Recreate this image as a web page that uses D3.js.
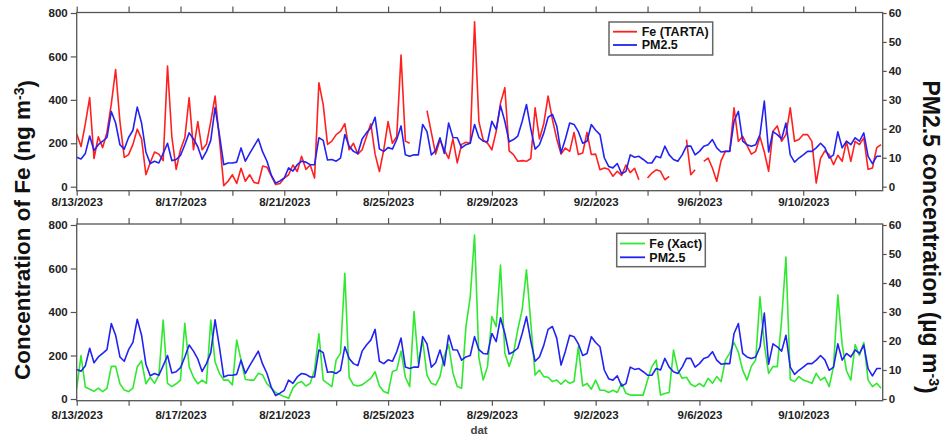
<!DOCTYPE html>
<html>
<head>
<meta charset="utf-8">
<script src="https://cdn.jsdelivr.net/npm/d3@7"></script>
<style>
body { margin: 0; background: #fff; }
svg { display: block; }
.tick text { font-family: "Liberation Sans", Arial, sans-serif; font-weight: bold; font-size: 11.5px; fill: #222; }
.tick line { stroke: #555; stroke-width: 1.2; }
</style>
</head>
<body>
<svg id="chart" width="945" height="436"></svg>
<script>
// 4-hourly values, first one at 8/13/2023 00:00
var startDate = "2023-08-13T00:00";
var stepHours = 4;

// Fe from TARTA (ng m-3), null = no data
var feTarta = [
  243, 185, 290, 410, 130, 230,   // 8/13
  180, 250, 380, 540, 300, 135,   // 8/14
  148, 195, 265, 220, 55, 110,    // 8/15
  160, 150, 120, 556, 230, 80,    // 8/16
  170, 225, 410, 170, 300, 170,   // 8/17
  195, 300, 417, 220, 5, 25,      // 8/18
  55, 15, 85, 25, 55, 20,         // 8/19
  15, 95, 90, 50, 10, 15,         // 8/20
  40, 55, 100, 70, 140, 80,       // 8/21
  100, 40, 479, 378, 195, 210,    // 8/22
  240, 255, 290, 170, 200, 150,   // 8/23
  170, 230, 290, 150, 70, 170,    // 8/24
  300, 200, 230, 606, 210, 200,   // 8/25
  null, null, null, 350, 250, 150, // 8/26
  215, 170, 130, 220, 110, 195,   // 8/27
  205, 200, 760, 300, 215, 200,   // 8/28
  170, 255, 385, 456, 165, 148,   // 8/29
  117, 120, 117, 130, 363, 220,   // 8/30
  290, 417, 310, 220, 150, 178,   // 8/31
  163, 250, 148, 155, 250, 148,   // 9/1
  150, 78, 86, 80, 48, 71,        // 9/2
  52, 100, 65, 85, 32, null,      // 9/3
  40, 63, 78, 71, 32, 48,         // 9/4
  null, null, null, 217, 55, 78,  // 9/5
  null, 117, 132, 86, 25, 120,    // 9/6
  163, 163, 363, 209, 232, 190,   // 9/7
  150, 163, 230, 160, 71, 255,    // 9/8
  280, 209, 240, 363, 209, 217,   // 9/9
  240, 240, 209, 17, 130, 165,    // 9/10
  148, 102, 145, 117, 209, 117,   // 9/11
  209, 194, 225, 80, 86, 180,     // 9/12
  194
];

// PM2.5 (ug m-3), same series in both panels
var pm25 = [
  10.2, 9.6, 11.5, 17.5, 12.5, 14.5,  // 8/13
  15.7, 17, 26, 22, 14.5, 13,         // 8/14
  17, 19.5, 27.5, 22, 12, 8,          // 8/15
  8.8, 8.2, 11.5, 15, 9, 9.4,         // 8/16
  10.8, 14.5, 18.6, 16.5, 13.8, 9.5,  // 8/17
  12.2, 16, 27.3, 18, 7.6, 8.2,       // 8/18
  8.2, 8.5, 13.4, 8.8, 11.5, 14,      // 8/19
  16.5, 12, 8.8, 4, 1.2, 2,           // 8/20
  3, 6.5, 5.4, 7.6, 8.8, 8.5,         // 8/21
  7.6, 7.6, 16.9, 16, 9.2, 9.4,       // 8/22
  8.8, 9.9, 18, 14, 12.2, 11.5,       // 8/23
  16.5, 18.6, 20.3, 24, 13, 12.2,     // 8/24
  13.5, 13, 16.3, 21, 11, 10.5,       // 8/25
  11, 11, 21.5, 19, 11, 12.5,         // 8/26
  16.9, 11.5, 22, 17, 16.9, 13.4,     // 8/27
  14.5, 15, 21.5, 17, 15.7, 15.5,     // 8/28
  22.6, 19.8, 28, 22.6, 15.5, 16.3,   // 8/29
  17.5, 22.5, 28.4, 20, 13, 14.5,     // 8/30
  18.5, 24, 25, 21, 11.7, 16.5,       // 8/31
  22, 21.5, 19, 15, 15.7, 21.5,       // 9/1
  19.5, 18, 10, 7, 6.5, 8,            // 9/2
  4.5, 5.3, 11, 10.2, 10.5, 9.4,      // 9/3
  8.2, 8.2, 10.5, 10, 14, 11,         // 9/4
  9.4, 8.8, 11, 14, 14, 11,           // 9/5
  12.2, 14, 14.5, 16.3, 13.4, 12,     // 9/6
  12.2, 12.2, 22.6, 26, 15.7, 14.5,   // 9/7
  14, 14.5, 18, 29.6, 12, 19,         // 9/8
  18, 16.5, 22, 11, 8.5, 9.9,         // 9/9
  11, 12.2, 12.2, 13.4, 15, 13.5,     // 9/10
  9.9, 11, 19, 13.4, 15.7, 14.5,      // 9/11
  16.9, 15.7, 18.6, 10.5, 8, 10.5,    // 9/12
  10.5
];

// Fe from Xact (ng m-3)
var feXact = [
  49, 200, 55, 45, 35, 50,      // 8/13
  34, 49, 150, 150, 70, 41,     // 8/14
  34, 50, 148, 175, 70, 100,    // 8/15
  72, 110, 363, 72, 57, 70,     // 8/16
  87, 348, 149, 100, 70, 87,    // 8/17
  72, 363, 170, 118, 87, 87,    // 8/18
  65, 271, 179, 90, 87, 87,     // 8/19
  118, 110, 70, 50, 30, 20,     // 8/20
  11, 3, 50, 72, 80, 60,        // 8/21
  72, 133, 300, 87, 72, 57,     // 8/22
  180, 210, 578, 100, 65, 60,   // 8/23
  65, 80, 95, 125, 60, 34,      // 8/24
  26, 126, 133, 220, 100, 57,   // 8/25
  402, 164, 270, 110, 72, 64,   // 8/26
  103, 200, 250, 120, 57, 49,   // 8/27
  333, 470, 754, 190, 87, 150,  // 8/28
  379, 333, 616, 210, 150, 210, // 8/29
  320, 410, 594, 350, 110, 133, // 8/30
  103, 100, 80, 87, 68, 87,     // 8/31
  72, 80, 240, 60, 72, 45,      // 9/1
  87, 41, 40, 30, 40, 30,       // 9/2
  72, 26, 18, 18, 18, 18,       // 9/3
  87, 149, 179, 18, 25, 30,     // 9/4
  225, 133, 95, 100, 68, 57,    // 9/5
  72, 57, 95, 72, 103, 80,      // 9/6
  179, 210, 260, 215, 133, 87,  // 9/7
  150, 179, 470, 250, 118, 149, // 9/8
  149, 363, 653, 90, 80, 103,   // 9/9
  87, 80, 72, 118, 87, 100,     // 9/10
  57, 149, 478, 250, 130, 87,   // 9/11
  250, 200, 260, 87, 57, 72,    // 9/12
  49
];

var feTicks = [0, 200, 400, 600, 800];
var pmTicks = [0, 10, 20, 30, 40, 50, 60];
var dateLabels = ["8/13/2023", "8/17/2023", "8/21/2023", "8/25/2023", "8/29/2023",
                  "9/2/2023", "9/6/2023", "9/10/2023"];
var axisEnd = "2023-09-13T01:30";

var parseTime = d3.timeParse("%Y-%m-%dT%H:%M");
var parseLabel = d3.timeParse("%m/%d/%Y");
var fmtLabel = d3.timeFormat("%-m/%-d/%Y");

var t0 = parseTime(startDate);
var times = feTarta.map(function(v, i) { return d3.timeHour.offset(t0, i * stepHours); });

var labelSet = new Set(dateLabels);
var firstTick = parseLabel(dateLabels[0]);
var tickDates = d3.timeDay.range(firstTick, parseTime(axisEnd)).filter(function(d, i) { return i % 2 == 0; });

var svg = d3.select("#chart");

var xScale = d3.scaleTime()
    .domain([t0, parseTime(axisEnd)])
    .range([76.7, 882.7]);

var panels = [
  {id: "top", fe: feTarta, color: "#ff2020", name: "Fe (TARTA)",
   frameTop: 12.5, frameBottom: 190.7, y0: 186.7, yMax: 13, labelPad: 2,
   legend: {x: 609, y: 22, w: 103.7, h: 33, l1: 613, l2: 637, tx: 641.7, r1: 31.7, r2: 45}},
  {id: "bot", fe: feXact, color: "#30e830", name: "Fe (Xact)",
   frameTop: 224, frameBottom: 400.7, y0: 399, yMax: 225, labelPad: 5,
   legend: {x: 616.7, y: 233.3, w: 88.6, h: 33.4, l1: 620, l2: 645, tx: 649.3, r1: 243.5, r2: 257.3}}
];

panels.forEach(drawPanel);

function drawPanel(p) {
    var yFe = d3.scaleLinear().domain([0, 800]).range([p.y0, p.yMax]);
    var yPm = d3.scaleLinear().domain([0, 60]).range([p.y0, p.yMax]);
    var x0 = xScale.range()[0], x1 = xScale.range()[1];

    svg.append("clipPath").attr("id", "clip-" + p.id)
        .append("rect")
        .attr("x", x0).attr("y", p.frameTop)
        .attr("width", x1 - x0).attr("height", p.frameBottom - p.frameTop);

    var g = svg.append("g");

    var feLine = d3.line()
        .defined(function(d) { return d != null; })
        .x(function(d, i) { return xScale(times[i]); })
        .y(function(d) { return yFe(d); });

    var pmLine = d3.line()
        .x(function(d, i) { return xScale(times[i]); })
        .y(function(d) { return yPm(d); });

    var lines = g.append("g").attr("clip-path", "url(#clip-" + p.id + ")");

    lines.append("path")
        .datum(p.fe)
        .attr("fill", "none")
        .attr("stroke", p.color)
        .attr("stroke-width", 1.6)
        .attr("stroke-linejoin", "round")
        .attr("d", feLine);

    lines.append("path")
        .datum(pm25)
        .attr("fill", "none")
        .attr("stroke", "#2222f2")
        .attr("stroke-width", 1.6)
        .attr("stroke-linejoin", "round")
        .attr("d", pmLine);

    // frame
    g.append("rect")
        .attr("x", x0).attr("y", p.frameTop)
        .attr("width", x1 - x0).attr("height", p.frameBottom - p.frameTop)
        .attr("fill", "none")
        .attr("stroke", "#555")
        .attr("stroke-width", 1.3);

    // axes
    g.append("g")
        .attr("transform", "translate(" + x0 + ",0)")
        .call(d3.axisLeft(yFe).tickValues(feTicks).tickSize(6).tickPadding(3))
        .call(function(a) { a.select(".domain").remove(); });

    g.append("g")
        .attr("transform", "translate(" + x1 + ",0)")
        .call(d3.axisRight(yPm).tickValues(pmTicks).tickSize(4).tickPadding(2))
        .call(function(a) { a.select(".domain").remove(); });

    g.append("g")
        .attr("transform", "translate(0," + p.frameBottom + ")")
        .call(d3.axisBottom(xScale).tickValues(tickDates).tickSize(5).tickPadding(p.labelPad)
            .tickFormat(function(d) { var s = fmtLabel(d); return labelSet.has(s) ? s : ""; }))
        .call(function(a) { a.select(".domain").remove(); });

    g.append("g")
        .attr("transform", "translate(0," + p.frameTop + ")")
        .call(d3.axisTop(xScale).tickValues(tickDates).tickSize(6).tickFormat(""))
        .call(function(a) { a.select(".domain").remove(); });

    // legend
    var L = p.legend;
    var lg = g.append("g");
    lg.append("rect")
        .attr("x", L.x).attr("y", L.y).attr("width", L.w).attr("height", L.h)
        .attr("fill", "#fff").attr("stroke", "#666").attr("stroke-width", 1.5);

    [[p.color, p.name, L.r1], ["#2222f2", "PM2.5", L.r2]].forEach(function(row) {
        lg.append("line")
            .attr("x1", L.l1).attr("x2", L.l2).attr("y1", row[2]).attr("y2", row[2])
            .attr("stroke", row[0]).attr("stroke-width", 1.8);
        lg.append("text")
            .attr("x", L.tx).attr("y", row[2]).attr("dy", "0.35em")
            .attr("font-family", "Liberation Sans, Arial, sans-serif")
            .attr("font-weight", "bold")
            .style("font-size", "12.5px")
            .attr("fill", "#111")
            .text(row[1]);
    });
}

// axis titles
var leftTitle = svg.append("text")
    .attr("transform", "translate(30,230) rotate(-90)")
    .attr("text-anchor", "middle")
    .attr("font-family", "Liberation Sans, Arial, sans-serif")
    .attr("font-weight", "bold")
    .style("font-size", "22.5px")
    .attr("fill", "#111");
leftTitle.append("tspan").text("Concentration of Fe (ng m");
leftTitle.append("tspan").attr("dy", "-0.45em").style("font-size", "14px").text("-3");
leftTitle.append("tspan").attr("dy", "0.45em").text(")");

var rightTitle = svg.append("text")
    .attr("transform", "translate(923,237) rotate(90)")
    .attr("text-anchor", "middle")
    .attr("font-family", "Liberation Sans, Arial, sans-serif")
    .attr("font-weight", "bold")
    .style("font-size", "23px")
    .attr("fill", "#111");
rightTitle.append("tspan").text("PM2.5 concentration (\u00b5g m");
rightTitle.append("tspan").attr("dy", "-0.45em").style("font-size", "14px").text("-3");
rightTitle.append("tspan").attr("dy", "0.45em").text(")");

svg.append("text")
    .attr("x", 479).attr("y", 434)
    .attr("text-anchor", "middle")
    .attr("font-family", "Liberation Sans, Arial, sans-serif")
    .attr("font-weight", "bold")
    .style("font-size", "11.5px")
    .attr("fill", "#444")
    .text("dat");
</script>
</body>
</html>
